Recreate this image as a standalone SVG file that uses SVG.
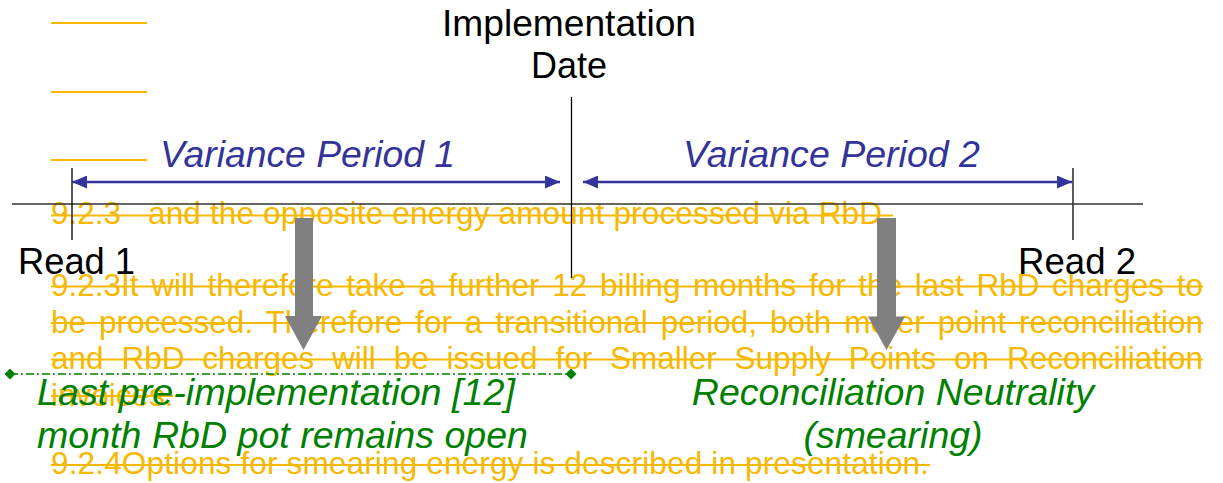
<svg xmlns="http://www.w3.org/2000/svg" width="1223" height="483" viewBox="0 0 1223 483">
  <style>
    .yel { font-family: "Liberation Sans", Arial, sans-serif; font-size: 31.5px; fill: #F6B800; }
    .strike { stroke: #F6B800; stroke-width: 2; }
    .blk { font-family: "Liberation Sans", Arial, sans-serif; font-size: 36px; fill: #000; }
    .blue { font-family: "Liberation Sans", Arial, sans-serif; font-size: 36px; font-style: italic; fill: #333399; }
    .grn { font-family: "Liberation Sans", Arial, sans-serif; font-size: 37.5px; font-style: italic; fill: #008000; }
    .tick { stroke: #000; stroke-width: 1.3; }
    .axis { stroke: #333; stroke-width: 1.6; }
    .period { stroke: #333399; stroke-width: 2.3; fill: none; marker-start: url(#ah); marker-end: url(#ah); }
    .big { fill: #808080; }
    .dashdot { stroke: #008000; stroke-width: 1.7; stroke-dasharray: 8 3 2 3; marker-start: url(#dia); marker-end: url(#dia); }
  </style>
  <defs>
    <marker id="ah" viewBox="0 0 15 13" refX="15" refY="6.5" markerWidth="15" markerHeight="13" markerUnits="userSpaceOnUse" orient="auto-start-reverse">
      <path d="M0,0 L15,6.5 L0,13 Z" fill="#333399"/>
    </marker>
    <marker id="dia" viewBox="0 0 11 11" refX="5.5" refY="5.5" markerWidth="11" markerHeight="11" markerUnits="userSpaceOnUse" orient="auto">
      <path d="M5.5,0 L11,5.5 L5.5,11 L0,5.5 Z" fill="#008000"/>
    </marker>
  </defs>

  <!-- deleted (struck-through) yellow text -->
  <g id="deleted-text">
    <line x1="51" y1="23" x2="147" y2="23" class="strike"/>
    <line x1="51" y1="92" x2="147" y2="92" class="strike"/>
    <line x1="51" y1="160" x2="147" y2="160" class="strike"/>

    <text class="yel" x="51" y="224">9.2.3</text>
    <text class="yel" x="148" y="224" textLength="734" lengthAdjust="spacing">and the opposite energy amount processed via RbD</text>
    <line x1="51" y1="215.5" x2="893" y2="215.5" class="strike"/>

    <text class="yel" x="51" y="296" word-spacing="3.9" textLength="1152" lengthAdjust="spacing">9.2.3It will therefore take a further 12 billing months for the last RbD charges to</text>
    <line x1="51" y1="286.5" x2="1203" y2="286.5" class="strike"/>
    <text class="yel" x="51" y="332.5" word-spacing="4.2" textLength="1152" lengthAdjust="spacing">be processed. Therefore for a transitional period, both meter point reconciliation</text>
    <line x1="51" y1="323" x2="1203" y2="323" class="strike"/>
    <text class="yel" x="51" y="369" word-spacing="9.1" textLength="1152" lengthAdjust="spacing">and RbD charges will be issued for Smaller Supply Points on Reconciliation</text>
    <line x1="51" y1="359.5" x2="1203" y2="359.5" class="strike"/>
    <text class="yel" x="51" y="405.5">invoices.</text>
    <line x1="51" y1="396" x2="173" y2="396" class="strike"/>

    <text class="yel" x="51" y="474" textLength="878" lengthAdjust="spacing">9.2.4Options for smearing energy is described in presentation.</text>
    <line x1="51" y1="465" x2="930" y2="465" class="strike"/>
  </g>

  <!-- connectors -->
  <g id="connectors">
    <line x1="12" y1="204" x2="1143" y2="204" class="axis"/>
    <line x1="72" y1="168" x2="72" y2="240" class="tick"/>
    <line x1="571.5" y1="97" x2="571.5" y2="278" class="tick"/>
    <line x1="1073" y1="168" x2="1073" y2="240" class="axis"/>
    <line x1="72" y1="182" x2="560" y2="182" class="period"/>
    <line x1="583" y1="182" x2="1072" y2="182" class="period"/>
    <path class="big" d="M295,218 H313 V316 H322 L303.5,350 L285,316 H295 Z"/>
    <path class="big" d="M877,218 H896 V316.5 H905 L886.5,350 L868,316.5 H877 Z"/>
    <line x1="10" y1="374" x2="571" y2="374" class="dashdot"/>
  </g>

  <g id="implementation-date">
    <text class="blk" x="569" y="36" text-anchor="middle" textLength="254" lengthAdjust="spacingAndGlyphs">Implementation</text>
    <text class="blk" x="569" y="78" text-anchor="middle">Date</text>
  </g>
  <g id="read-1">
    <text class="blk" x="18" y="274" textLength="117" lengthAdjust="spacingAndGlyphs">Read 1</text>
  </g>
  <g id="read-2">
    <text class="blk" x="1018" y="274" textLength="118" lengthAdjust="spacingAndGlyphs">Read 2</text>
  </g>
  <g id="variance-period-1">
    <text class="blue" x="160" y="167" textLength="295" lengthAdjust="spacingAndGlyphs">Variance Period 1</text>
  </g>
  <g id="variance-period-2">
    <text class="blue" x="683" y="167" textLength="297" lengthAdjust="spacingAndGlyphs">Variance Period 2</text>
  </g>
  <g id="rbd-pot-open">
    <text class="grn" x="37" y="405" textLength="478" lengthAdjust="spacingAndGlyphs">Last pre-implementation [12]</text>
    <text class="grn" x="37" y="448" textLength="491" lengthAdjust="spacingAndGlyphs">month RbD pot remains open</text>
  </g>
  <g id="reconciliation-neutrality">
    <text class="grn" x="893" y="405" text-anchor="middle">Reconciliation Neutrality</text>
    <text class="grn" x="893" y="448" text-anchor="middle">(smearing)</text>
  </g>
</svg>
